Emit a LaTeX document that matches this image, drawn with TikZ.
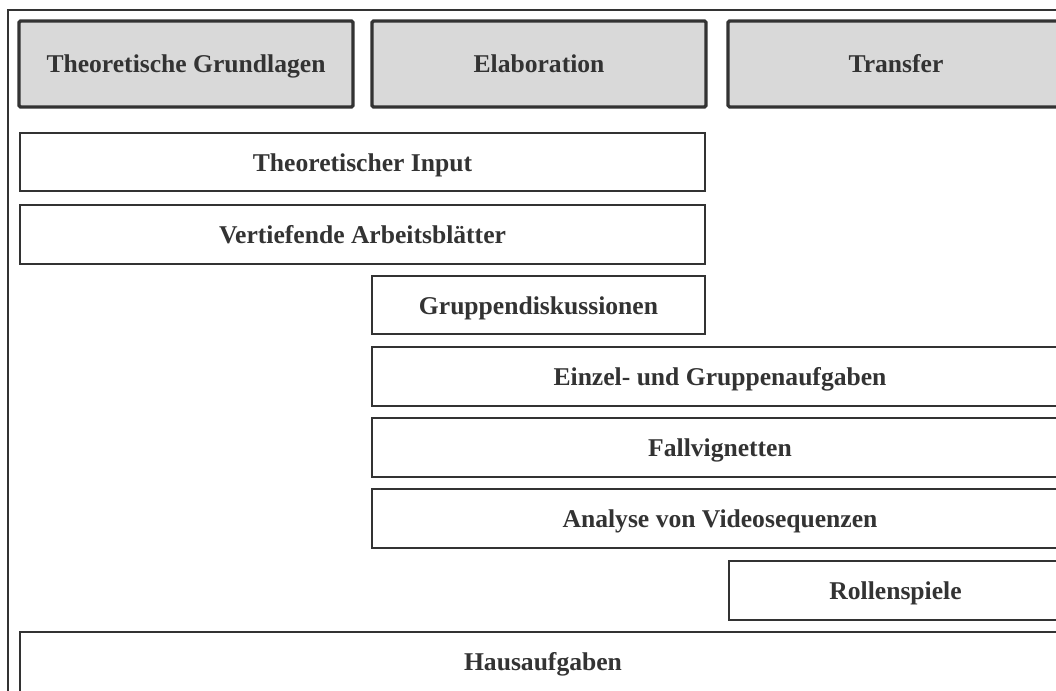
\documentclass[tikz,border=0pt]{standalone}
\usepackage{fontspec}
\setmainfont{Liberation Serif}
\definecolor{edge}{HTML}{333333}
\definecolor{headfill}{HTML}{D9D9D9}
\begin{document}
\begin{tikzpicture}[x=1pt,y=-1pt,
  box/.style={draw=edge,line width=2pt,fill=white},
  head/.style={draw=edge,line width=3.2pt,fill=headfill,rounded corners=1.5pt},
  lbl/.style={text=edge,font=\fontsize{25.6}{30}\selectfont\bfseries,anchor=base,inner sep=0pt},
  frame/.style={draw=edge,line width=1.2pt}]
\useasboundingbox (0,0) rectangle (1056,690);
\clip (0,0) rectangle (1056,690);
\path[fill=white] (0,0) rectangle (1056,690);
\draw[frame] (8,10) rectangle (1100,720);
% header
\draw[head] (19,21) rectangle (353,107);
\node[lbl] (h1) at (186,73) {Theoretische Grundlagen};
\draw[head] (372,21) rectangle (706,107);
\node[lbl] (h2) at (539,73) {Elaboration};
\draw[head] (728,21) rectangle (1064,107);
\node[lbl] (h3) at (896,73) {Transfer};
% rows
\draw[box] (20,133) rectangle (705,191);
\node[lbl] (r1) at (362.5,171.5) {Theoretischer Input};
\draw[box] (20,205) rectangle (705,264);
\node[lbl] (r2) at (362.5,243.5) {Vertiefende Arbeitsblätter};
\draw[box] (372,276) rectangle (705,334);
\node[lbl] (r3) at (538.5,314.5) {Gruppendiskussionen};
\draw[box] (372,347) rectangle (1068,406);
\node[lbl] (r4) at (720,385.5) {Einzel- und Gruppenaufgaben};
\draw[box] (372,418) rectangle (1068,477);
\node[lbl] (r5) at (720,456.5) {Fallvignetten};
\draw[box] (372,489) rectangle (1068,548);
\node[lbl] (r6) at (720,527.5) {Analyse von Videosequenzen};
\draw[box] (729,561) rectangle (1062,620);
\node[lbl] (r7) at (895.5,599.5) {Rollenspiele};
\draw[box] (20,632) rectangle (1066,692);
\node[lbl] (r8) at (543,670.5) {Hausaufgaben};
\end{tikzpicture}
\end{document}
